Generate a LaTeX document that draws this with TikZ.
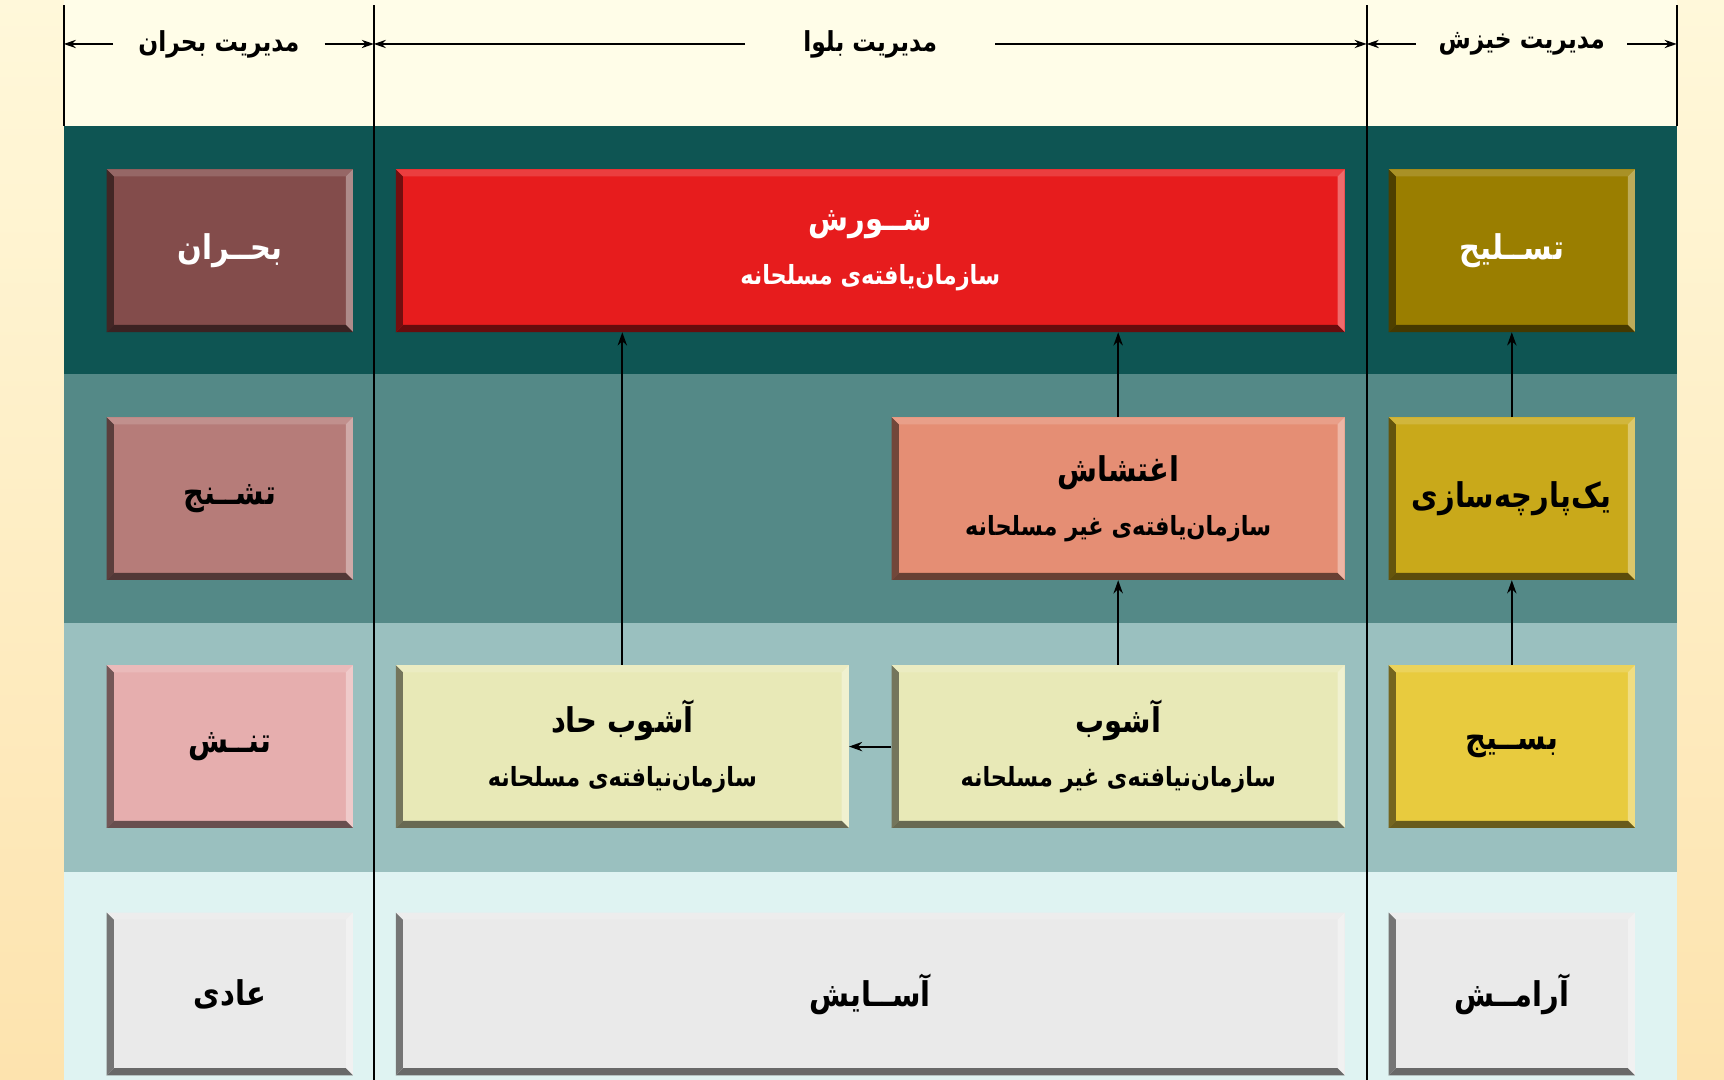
\documentclass[tikz,border=0pt]{standalone}
\usepackage{fontspec}
\usetikzlibrary{arrows.meta}
\TeXXeTstate=1
\newfontfamily\fa[Script=Arabic, FakeStretch=0.85]{DejaVu Sans}
\definecolor{hdrbg}{HTML}{FFFDE8}
\definecolor{bgtop}{HTML}{FFF8DA}
\definecolor{bgbot}{HTML}{FDE3AE}
\definecolor{bandA}{HTML}{0E5553}
\definecolor{bandB}{HTML}{548987}
\definecolor{bandC}{HTML}{9AC0BF}
\definecolor{bandD}{HTML}{DFF3F2}
\definecolor{cBohran}{HTML}{834C4B}
\definecolor{cShorsh}{HTML}{E71C1D}
\definecolor{cTaslih}{HTML}{9A7E00}
\definecolor{cTashanoj}{HTML}{B67C79}
\definecolor{cEghteshash}{HTML}{E58E74}
\definecolor{cYekparche}{HTML}{C9A91A}
\definecolor{cTanesh}{HTML}{E6AEAE}
\definecolor{cAshub}{HTML}{E8E9B7}
\definecolor{cBasij}{HTML}{E8CB3E}
\definecolor{cGrey}{HTML}{EAEAEA}
\newlength\bv
\setlength\bv{6.5pt}
\newcommand\rtl[1]{\beginR #1\endR}
\newcommand\subl[1]{{\fontsize{24}{24}\selectfont\rtl{#1}}}
\tikzset{
  bevbox/.style={fill=#1, draw=none, inner sep=0pt, align=center,
    font=\fa\bfseries\fontsize{31}{49}\selectfont,
    path picture={
      \coordinate (bvNW) at (path picture bounding box.north west);
      \coordinate (bvNE) at (path picture bounding box.north east);
      \coordinate (bvSW) at (path picture bounding box.south west);
      \coordinate (bvSE) at (path picture bounding box.south east);
      \fill[#1!85!white] (bvNW) -- (bvNE) -- ([shift={(-\bv,-\bv)}]bvNE) -- ([shift={(\bv,-\bv)}]bvNW) -- cycle;
      \fill[#1!65!white] (bvNE) -- (bvSE) -- ([shift={(-\bv,\bv)}]bvSE) -- ([shift={(-\bv,-\bv)}]bvNE) -- cycle;
      \fill[#1!45!black] (bvSE) -- (bvSW) -- ([shift={(\bv,\bv)}]bvSW) -- ([shift={(-\bv,\bv)}]bvSE) -- cycle;
      \fill[#1!50!black] (bvSW) -- (bvNW) -- ([shift={(\bv,-\bv)}]bvNW) -- ([shift={(\bv,\bv)}]bvSW) -- cycle;
    }},
  wide/.style={minimum width=863pt, minimum height=148pt},
  half/.style={minimum width=412pt, minimum height=148pt},
  narrow/.style={minimum width=224pt, minimum height=148pt},
  arr/.style={line width=1.8pt, -{Stealth[length=12pt,width=8.5pt]}},
  harr/.style={line width=1.6pt, -{Stealth[length=11pt,width=7.5pt]}},
  vline/.style={line width=1.8pt},
  hlab/.style={inner sep=0pt, minimum height=30pt, font=\fa\bfseries\fontsize{25}{25}\selectfont},
}
\begin{document}
\begin{tikzpicture}[x=1pt,y=-1pt]
\useasboundingbox (0,0) rectangle (1568,982);
% background
\shade[top color=bgtop, bottom color=bgbot] (0,0) rectangle (1568,982);
\fill[hdrbg] (58,0) rectangle (1525,115);
\fill[bandA] (58,115) rectangle (1525,340);
\fill[bandB] (58,340) rectangle (1525,567);
\fill[bandC] (58,567) rectangle (1525,793);
\fill[bandD] (58,793) rectangle (1525,982);
% vertical lines
\coordinate (L0) at (58,5);   \coordinate (L0b) at (58,115);
\coordinate (L1) at (340,5);  \coordinate (L1b) at (340,982);
\coordinate (L2) at (1243,5); \coordinate (L2b) at (1243,982);
\coordinate (L3) at (1525,5); \coordinate (L3b) at (1525,115);
\draw[vline] (L0) -- (L0b);
\draw[vline] (L1) -- (L1b);
\draw[vline] (L2) -- (L2b);
\draw[vline] (L3) -- (L3b);
% header labels
\node[hlab, minimum width=192pt] (h1) at (199,40) {\rtl{مدیریت بحران}};
\node[hlab, minimum width=227pt] (h2) at (791.5,40) {\rtl{مدیریت بلوا}};
\node[hlab, minimum width=192pt] (h3) at (1384,40) {\rtl{مدیریت خیزش}};
\draw[harr] (h1.west) -- (h1.west -| L0);
\draw[harr] (h1.east) -- (h1.east -| L1);
\draw[harr] (h2.west) -- (h2.west -| L1);
\draw[harr] (h2.east) -- (h2.east -| L2);
\draw[harr] (h3.west) -- (h3.west -| L2);
\draw[harr] (h3.east) -- (h3.east -| L3);
% row 1
\node[bevbox=cBohran, narrow, text=white] (bh) at (209,228) {\rtl{بحــران}};
\node[bevbox=cShorsh, wide, text=white] (shor) at (791.5,228) {\rtl{شــورش}\\\subl{سازمان^^^^200cیافته^^^^200cی مسلحانه}};
\node[bevbox=cTaslih, narrow, text=white] (tas) at (1375,228) {\rtl{تســلیح}};
% row 2
\node[bevbox=cTashanoj, narrow] (tash) at (209,453.5) {\rtl{تشــنج}};
\node[bevbox=cEghteshash, half] (eght) at (1017,453.5) {\rtl{اغتشاش}\\\subl{سازمان^^^^200cیافته^^^^200cی غیر مسلحانه}};
\node[bevbox=cYekparche, narrow] (yek) at (1375,453.5) {\rtl{یک^^^^200cپارچه^^^^200cسازی}};
% row 3
\node[bevbox=cTanesh, narrow] (tan) at (209,679) {\rtl{تنــش}};
\node[bevbox=cAshub, half] (ashH) at (566,679) {\rtl{آشوب حاد}\\\subl{سازمان^^^^200cنیافته^^^^200cی مسلحانه}};
\node[bevbox=cAshub, half] (ash) at (1017,679) {\rtl{آشوب}\\\subl{سازمان^^^^200cنیافته^^^^200cی غیر مسلحانه}};
\node[bevbox=cBasij, narrow] (bas) at (1375,679) {\rtl{بســیج}};
% row 4
\node[bevbox=cGrey, narrow] (adi) at (209,904) {\rtl{عادی}};
\node[bevbox=cGrey, wide] (asa) at (791.5,904) {\rtl{آســایش}};
\node[bevbox=cGrey, narrow] (aram) at (1375,904) {\rtl{آرامــش}};
% connectors
\draw[arr] (ashH.north) -- (ashH.north |- shor.south);
\draw[arr] (eght.north) -- (eght.north |- shor.south);
\draw[arr] (ash.north) -- (eght.south);
\draw[arr] (ash.west) -- (ashH.east);
\draw[arr] (bas.north) -- (yek.south);
\draw[arr] (yek.north) -- (tas.south);
\end{tikzpicture}
\end{document}
